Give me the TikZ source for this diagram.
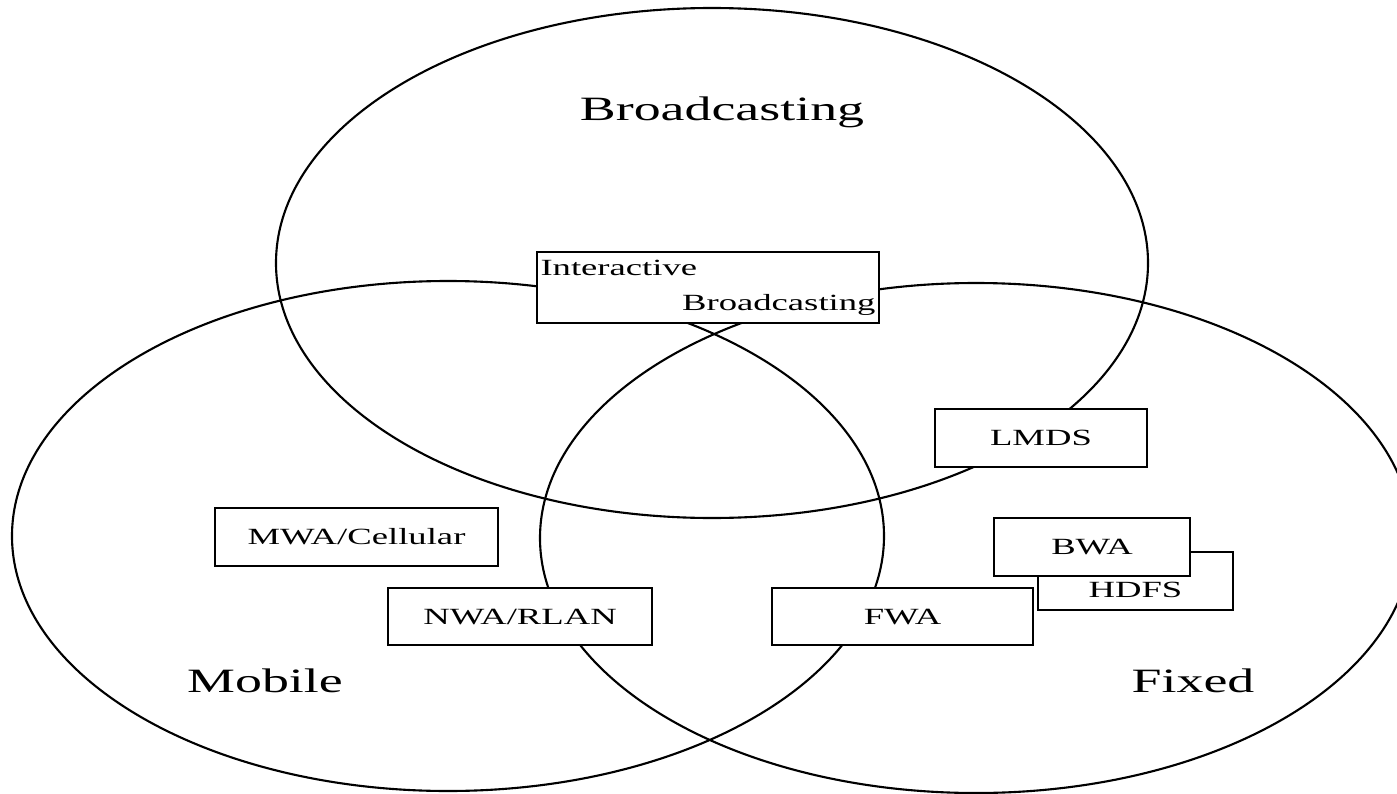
\documentclass[tikz,border=0pt]{standalone}
\usepackage{fontspec}
\setmainfont{Liberation Serif}[FakeStretch=1.58]
\usetikzlibrary{positioning}

\begin{document}
\begin{tikzpicture}[
    every node/.style={inner sep=0pt},
    set/.style={draw, line width=0.6pt},
    box/.style={draw, line width=0.6pt, fill=white, minimum height=0.575cm, font=\fontsize{6.6}{9.96}\selectfont},
    setname/.style={font=\fontsize{9.7}{11}\selectfont, anchor=base}
]
    \clip (0,0) rectangle (13.97,7.93);

    % Sets
    \draw [set] (7.12,5.30) ellipse [x radius=4.36cm, y radius=2.55cm];
    \draw [set] (4.48,2.57) ellipse [x radius=4.36cm, y radius=2.55cm];
    \draw [set] (9.76,2.55) ellipse [x radius=4.36cm, y radius=2.55cm];

    % Set names
    \node (broad) [setname] at (7.22,6.726) {Broadcasting};
    \node (mobile) [setname] at (2.65,1.005) {Mobile};
    \node (fixed) [setname] at (11.93,1.005) {Fixed};

    % Boxes
    \node (ib) [box, minimum width=3.42cm, minimum height=0.71cm, text width=3.35cm, align=left] at (7.08,5.055) {Interactive\\\hspace*{0pt plus 1filll}Broadcasting};
    \node (mwa) [box, minimum width=2.83cm] at (3.565,2.56) {MWA/Cellular};
    \node (nwa) [box, minimum width=2.64cm, minimum height=0.57cm] at (5.20,1.762) {NWA/RLAN};
    \node (lmds) [box, minimum width=2.115cm] at (10.41,3.55) {LMDS};
    \node (hdfs) [box, minimum width=1.95cm] at (11.355,2.12) {\raisebox{-0.09cm}[\height][\depth]{HDFS}};
    \node (bwa) [box, minimum width=1.96cm] at (10.92,2.46) {BWA};
    \node (fwa) [box, minimum width=2.61cm, minimum height=0.57cm] at (9.025,1.762) {FWA};
\end{tikzpicture}
\end{document}
